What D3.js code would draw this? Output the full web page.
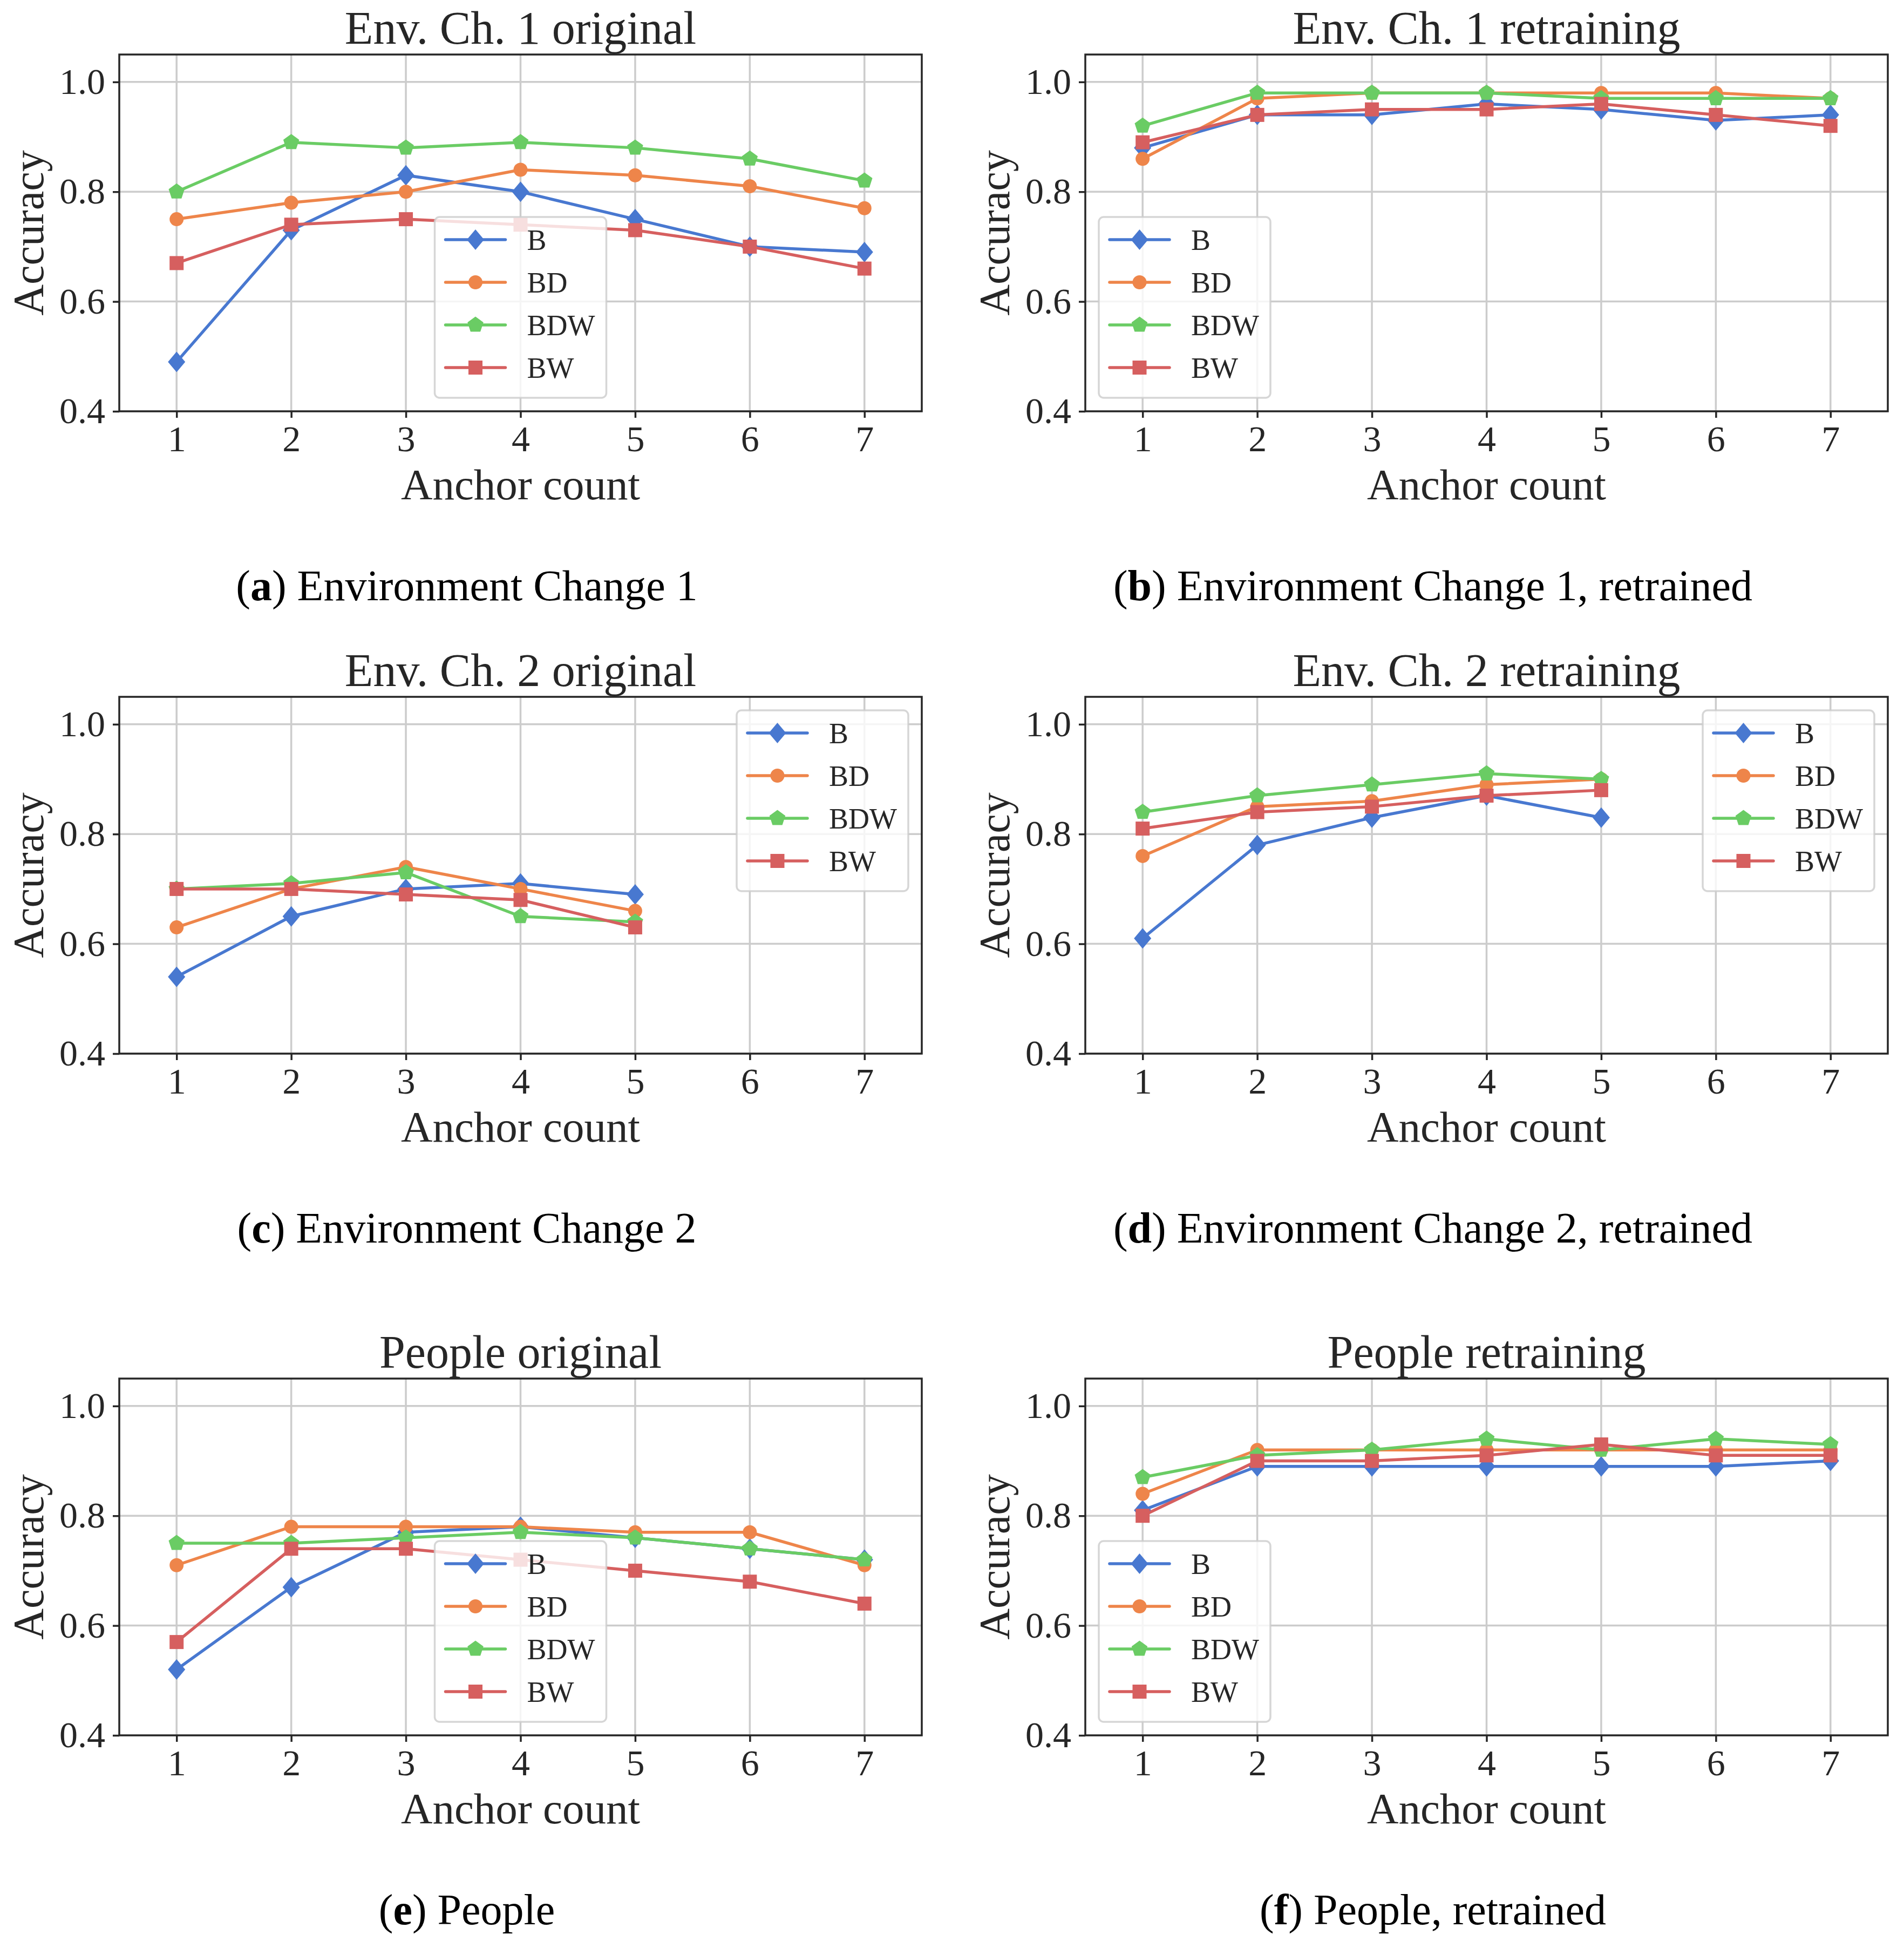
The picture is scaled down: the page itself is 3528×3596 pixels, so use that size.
<!DOCTYPE html>
<html>
<head>
<meta charset="utf-8">
<script src="https://cdn.jsdelivr.net/npm/d3@7"></script>
<style>
  body { margin: 0; background: #fff; }
  svg text { font-family: "Liberation Serif", "DejaVu Serif", serif; fill: #262626; }
</style>
</head>
<body>
<script>
(function(){

//x axis values and series names
var anchorCounts = [1, 2, 3, 4, 5, 6, 7];
var seriesNames = ["B", "BD", "BDW", "BW"];
var yTickValues = [0.4, 0.6, 0.8, 1.0];

//accuracy per series (rows in order B, BD, BDW, BW)
var env1Original = [
    [0.49, 0.73, 0.83, 0.80, 0.75, 0.70, 0.69],
    [0.75, 0.78, 0.80, 0.84, 0.83, 0.81, 0.77],
    [0.80, 0.89, 0.88, 0.89, 0.88, 0.86, 0.82],
    [0.67, 0.74, 0.75, 0.74, 0.73, 0.70, 0.66]
];
var env1Retrained = [
    [0.88, 0.94, 0.94, 0.96, 0.95, 0.93, 0.94],
    [0.86, 0.97, 0.98, 0.98, 0.98, 0.98, 0.97],
    [0.92, 0.98, 0.98, 0.98, 0.97, 0.97, 0.97],
    [0.89, 0.94, 0.95, 0.95, 0.96, 0.94, 0.92]
];
var env2Original = [
    [0.54, 0.65, 0.70, 0.71, 0.69],
    [0.63, 0.70, 0.74, 0.70, 0.66],
    [0.70, 0.71, 0.73, 0.65, 0.64],
    [0.70, 0.70, 0.69, 0.68, 0.63]
];
var env2Retrained = [
    [0.61, 0.78, 0.83, 0.87, 0.83],
    [0.76, 0.85, 0.86, 0.89, 0.90],
    [0.84, 0.87, 0.89, 0.91, 0.90],
    [0.81, 0.84, 0.85, 0.87, 0.88]
];
var peopleOriginal = [
    [0.52, 0.67, 0.77, 0.78, 0.76, 0.74, 0.72],
    [0.71, 0.78, 0.78, 0.78, 0.77, 0.77, 0.71],
    [0.75, 0.75, 0.76, 0.77, 0.76, 0.74, 0.72],
    [0.57, 0.74, 0.74, 0.72, 0.70, 0.68, 0.64]
];
var peopleRetrained = [
    [0.81, 0.89, 0.89, 0.89, 0.89, 0.89, 0.90],
    [0.84, 0.92, 0.92, 0.92, 0.92, 0.92, 0.92],
    [0.87, 0.91, 0.92, 0.94, 0.92, 0.94, 0.93],
    [0.80, 0.90, 0.90, 0.91, 0.93, 0.91, 0.91]
];

var panelTitles = ["Env. Ch. 1 original", "Env. Ch. 1 retraining",
                   "Env. Ch. 2 original", "Env. Ch. 2 retraining",
                   "People original", "People retraining"];
var captionLetters = ["a", "b", "c", "d", "e", "f"];
var captionTexts = [" Environment Change 1", " Environment Change 1, retrained",
                    " Environment Change 2", " Environment Change 2, retrained",
                    " People", " People, retrained"];
var legendPlaces = ["lowerCenter", "lowerLeft", "upperRight", "upperRight", "lowerCenter", "lowerLeft"];

var panelData = [env1Original, env1Retrained, env2Original, env2Retrained, peopleOriginal, peopleRetrained];

//seaborn muted colours
var colors = ["#4878d0", "#ee854a", "#6acc64", "#d65f5f"];
var markers = ["diamond", "circle", "pentagon", "square"];

//layout
var width = 3528, height = 3596;
var colX = [221, 2011],
    rowTop = [101, 1291, 2554],
    captionX = [865, 2655],
    plotW = 1487,
    plotH = 661,
    lineW = 5.5;

var svg = d3.select("body")
    .append("svg")
    .attr("width", width)
    .attr("height", height);

svg.append("rect")
    .attr("width", width)
    .attr("height", height)
    .attr("fill", "#fff");

//marker path for each shape
function markerPath(type){
    if (type == "diamond"){
        return "M0,-19L16,0L0,19L-16,0Z";
    } else if (type == "circle"){
        return d3.symbol().type(d3.symbolCircle).size(Math.PI * 13 * 13)();
    } else if (type == "square"){
        return "M-13,-13H13V13H-13Z";
    } else {
        var r = 15.5, pts = [];
        for (var k = 0; k < 5; k++){
            var a = -Math.PI / 2 + k * 2 * Math.PI / 5;
            pts.push([r * Math.cos(a), r * Math.sin(a)]);
        }
        return "M" + pts.join("L") + "Z";
    }
};

panelData.forEach(function(series, p){
    var col = p % 2, row = Math.floor(p / 2);
    var left = colX[col], top = rowTop[row];

    var x = d3.scaleLinear().domain([0.5, 7.5]).range([0, plotW]);
    var y = d3.scaleLinear().domain([0.4, 1.05]).range([plotH, 0]);

    var g = svg.append("g")
        .attr("transform", "translate(" + left + "," + top + ")");

    //grid lines
    g.selectAll(".vgrid")
        .data(anchorCounts)
        .enter()
        .append("line")
        .attr("x1", function(d){ return x(d); })
        .attr("x2", function(d){ return x(d); })
        .attr("y1", 0)
        .attr("y2", plotH)
        .attr("stroke", "#cccccc")
        .attr("stroke-width", 3.5);

    g.selectAll(".hgrid")
        .data(yTickValues)
        .enter()
        .append("line")
        .attr("x1", 0)
        .attr("x2", plotW)
        .attr("y1", function(d){ return y(d); })
        .attr("y2", function(d){ return y(d); })
        .attr("stroke", "#cccccc")
        .attr("stroke-width", 3.5);

    //lines and markers
    var line = d3.line()
        .x(function(d, i){ return x(anchorCounts[i]); })
        .y(function(d){ return y(d); });

    series.forEach(function(vals, s){
        g.append("path")
            .datum(vals)
            .attr("d", line)
            .attr("fill", "none")
            .attr("stroke", colors[s])
            .attr("stroke-width", lineW)
            .attr("stroke-linejoin", "round")
            .attr("stroke-linecap", "round");

        g.selectAll(".mk" + s)
            .data(vals)
            .enter()
            .append("path")
            .attr("transform", function(d, i){
                return "translate(" + x(anchorCounts[i]) + "," + y(d) + ")";
            })
            .attr("d", markerPath(markers[s]))
            .attr("fill", colors[s]);
    });

    //axes
    var xAxis = d3.axisBottom(x)
        .tickValues(anchorCounts)
        .tickSize(12)
        .tickPadding(14)
        .tickFormat(d3.format("d"));
    var yAxis = d3.axisLeft(y)
        .tickValues(yTickValues)
        .tickSize(12)
        .tickPadding(14)
        .tickFormat(d3.format(".1f"));

    var gx = g.append("g")
        .attr("transform", "translate(0," + plotH + ")")
        .call(xAxis);
    var gy = g.append("g").call(yAxis);

    [gx, gy].forEach(function(ax){
        ax.select(".domain").remove();
        ax.selectAll(".tick line").attr("stroke", "#262626").attr("stroke-width", 3.5);
        ax.selectAll(".tick text")
            .attr("fill", "#262626")
            .style("font-size", "68px");
    });

    //frame
    g.append("rect")
        .attr("width", plotW)
        .attr("height", plotH)
        .attr("fill", "none")
        .attr("stroke", "#262626")
        .attr("stroke-width", 3.5);

    //legend
    var legW = 318, legH = 335;
    var lx, ly;
    if (legendPlaces[p] == "lowerCenter"){
        lx = plotW / 2 - legW / 2; ly = plotH - 25 - legH;
    } else if (legendPlaces[p] == "lowerLeft"){
        lx = 25; ly = plotH - 25 - legH;
    } else {
        lx = plotW - 25 - legW; ly = 25;
    }
    var legend = g.append("g")
        .attr("transform", "translate(" + lx + "," + ly + ")");

    legend.append("rect")
        .attr("width", legW)
        .attr("height", legH)
        .attr("rx", 9)
        .attr("fill", "#fff")
        .attr("fill-opacity", 0.8)
        .attr("stroke", "#cccccc")
        .attr("stroke-opacity", 0.8)
        .attr("stroke-width", 3.5);

    seriesNames.forEach(function(name, s){
        var ry = 42 + s * 79;
        legend.append("line")
            .attr("x1", 20).attr("x2", 131)
            .attr("y1", ry).attr("y2", ry)
            .attr("stroke", colors[s])
            .attr("stroke-width", lineW)
            .attr("stroke-linecap", "round");
        legend.append("path")
            .attr("transform", "translate(75.5," + ry + ")")
            .attr("d", markerPath(markers[s]))
            .attr("fill", colors[s]);
        legend.append("text")
            .attr("x", 171)
            .attr("y", ry)
            .attr("dy", "0.35em")
            .style("font-size", "54px")
            .text(name);
    });

    //title and axis labels
    g.append("text")
        .attr("x", plotW / 2)
        .attr("y", -20)
        .attr("text-anchor", "middle")
        .style("font-size", "86px")
        .text(panelTitles[p]);

    g.append("text")
        .attr("x", plotW / 2)
        .attr("y", plotH + 163)
        .attr("text-anchor", "middle")
        .style("font-size", "81px")
        .text("Anchor count");

    g.append("text")
        .attr("transform", "translate(" + (80 - colX[0]) + "," + (plotH / 2) + ") rotate(-90)")
        .attr("text-anchor", "middle")
        .style("font-size", "80px")
        .text("Accuracy");

    //subfigure caption
    var cap = svg.append("text")
        .attr("x", captionX[col])
        .attr("y", top + 1011)
        .attr("text-anchor", "middle")
        .style("font-size", "80px")
        .style("fill", "#000");
    cap.append("tspan").text("(");
    cap.append("tspan").style("font-weight", "bold").text(captionLetters[p]);
    cap.append("tspan").text(")" + captionTexts[p]);
});

})();
</script>
</body>
</html>
